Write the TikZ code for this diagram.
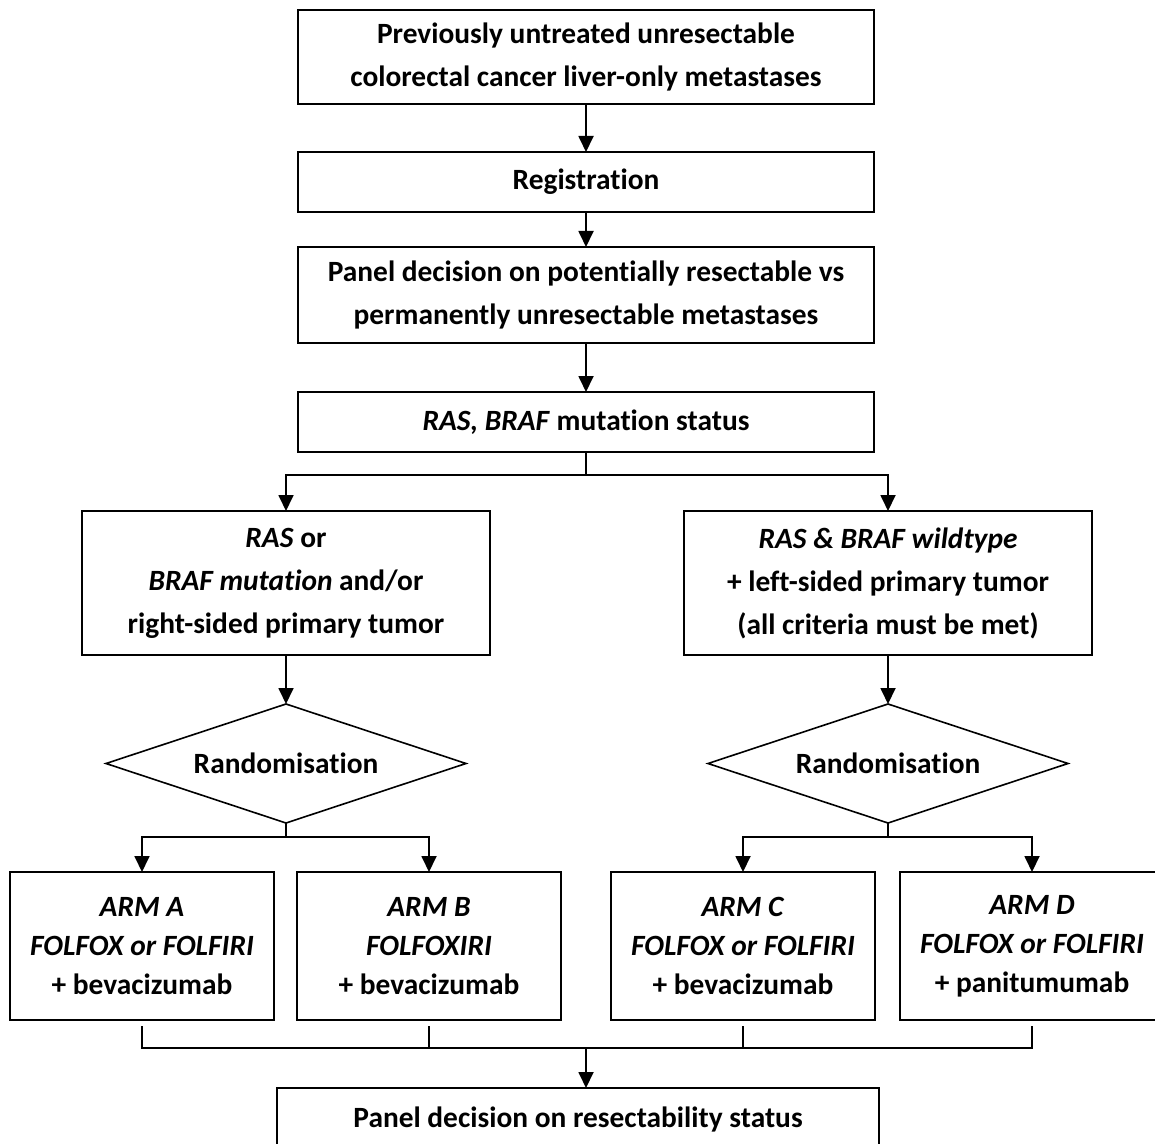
\documentclass[tikz,border=0pt]{standalone}
\usepackage{fontspec}
\setmainfont{Carlito}[Ligatures=NoCommon]
\usetikzlibrary{positioning}
\usetikzlibrary{shapes.geometric,arrows.meta}

\begin{document}
\begin{tikzpicture}[x=0.5pt, y=0.5pt, line width=0.9pt, >={Triangle[width=7.5pt,length=8pt]},
	every node/.style={font=\bfseries\fontsize{14.7}{21.5}\selectfont, align=center},
	box/.style={draw, line width=1pt, inner sep=0, outer sep=0, minimum height=30pt},
	rand/.style={draw, diamond, aspect=3, inner sep=1pt, outer sep=0, line width=0.8pt, minimum width=180pt, minimum height=59.5pt},
	arm/.style={box, minimum width=132pt, minimum height=74pt, font=\bfseries\fontsize{14.7}{19.5}\selectfont}]
		
		\useasboundingbox (0,0) rectangle (1155,-1144);
		
		%Nodes
		\node[box, minimum width=288pt, minimum height=47pt] (1) at (586,-57) {Previously untreated unresectable\\colorectal cancer liver-only metastases};
		\node[box, minimum width=288pt] (2) [below=24pt of 1] {Registration};
		\node[box, minimum width=288pt, minimum height=48pt] (3) [below=17.5pt of 2] {Panel decision on potentially resectable vs\\permanently unresectable metastases};
		\node[box, minimum width=288pt] (4) [below=24.5pt of 3] {\textit{RAS, BRAF} mutation status};
		\node[box, minimum width=204pt, minimum height=72pt] (51) [below=29.5pt of 4, xshift=-150pt] {\textit{RAS} or\\\textit{BRAF mutation} and/or\\right-sided primary tumor};
		\node[box, minimum width=204pt, minimum height=72pt] (52) [below=29.5pt of 4, xshift=151pt] {\textit{RAS \& BRAF wildtype}\\+ left-sided primary tumor\\(all criteria must be met)};
		\node[rand] (61) [below=24.5pt of 51] {Randomisation};
		\node[rand] (62) [below=24.5pt of 52] {Randomisation};
		\node[arm] (71) [below=24.5pt of 61, xshift=-72pt] {\textit{ARM A}\\\textit{FOLFOX or FOLFIRI}\\+ bevacizumab};
		\node[arm] (72) [below=24.5pt of 61, xshift=71.5pt] {\textit{ARM B}\\\textit{FOLFOXIRI}\\+ bevacizumab};
		\node[arm] (73) [below=24.5pt of 62, xshift=-72.5pt] {\textit{ARM C}\\\textit{FOLFOX or FOLFIRI}\\+ bevacizumab};
		\node[arm] (74) [below=24.5pt of 62, xshift=72pt] {\textit{ARM D}\\\textit{FOLFOX or FOLFIRI}\\+ panitumumab};
		\node[box, minimum width=301pt, minimum height=31pt] (8) [below=34pt of 72, xshift=74.5pt] {Panel decision on resectability status};
		\coordinate (9) at ([yshift=-14pt]72.south -| 4.south);
		
		%Lines
		\draw[->] (1) -- (2);
		\draw[->] (2) -- (3);
		\draw[->] (3) -- (4);
		\draw[->] (4.south) -- ++(0,-23) -| (51.north);
		\draw[->] (4.south) -- ++(0,-23) -| (52.north);
		\draw[->] (51) -- (61);
		\draw[->] (52) -- (62);
		\draw[->] (61.south) -- ++(0,-14) -| (71.north);
		\draw[->] (61.south) -- ++(0,-14) -| (72.north);
		\draw[->] (62.south) -- ++(0,-14) -| (73.north);
		\draw[->] (62.south) -- ++(0,-14) -| (74.north);
		\draw ([yshift=-3pt]71.south) |- (74.south |- 9) -- ([yshift=-3pt]74.south);
		\draw ([yshift=-3pt]72.south) -- (72.south |- 9);
		\draw ([yshift=-3pt]73.south) -- (73.south |- 9);
		\draw[->] (9) -- (9 |- 8.north);
	\end{tikzpicture}
\end{document}
